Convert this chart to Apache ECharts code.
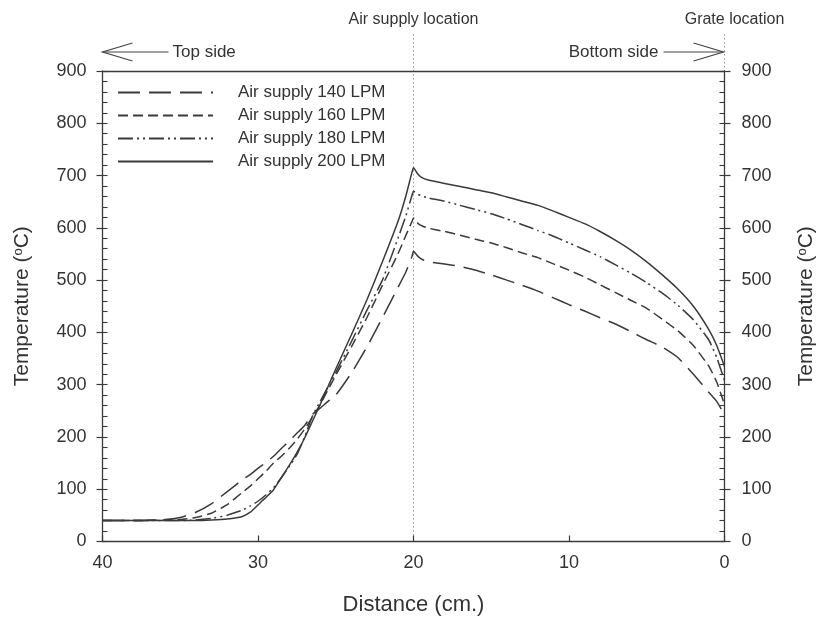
<!DOCTYPE html>
<html>
<head>
<meta charset="utf-8">
<script src="https://cdn.jsdelivr.net/npm/echarts@6/dist/echarts.min.js"></script>
<style>
html,body{margin:0;padding:0;background:#fff;}
#main{width:819px;height:617px;}
</style>
</head>
<body>
<div id="main"></div>
<script>
// Distance from grate side (cm)
const distance = [40,38,36,35,34,33,32,31,30.5,30,29.5,29,28.5,28,27.5,27,26.5,26,25.5,25,24,23,22,21,20.5,20.1,20,19.7,19.4,19,18,17,16,15,14,13,12,11,10,9,8,7,6,5,4,3,2,1,0.5,0];
// Temperatures (°C)
const temp140 = [40,40,42,46,56,72,95,118,128,140,151,163,178,192,207,222,243,255,268,280,322,372,428,486,515,545,555,545,539,535,531,526,519,510,500,490,479,466,453,441,428,416,401,386,372,352,320,285,268,242];
const temp160 = [40,40,41,42,46,54,70,94,106,120,134,150,163,178,195,215,238,262,290,318,372,428,490,550,585,612,619,608,603,599,593,586,578,571,562,552,543,531,519,506,491,476,461,446,425,403,375,335,305,262];
const temp180 = [40,40,40,40,41,44,50,60,68,77,89,103,122,143,166,200,240,268,296,323,382,442,500,580,622,662,670,664,660,657,651,643,635,627,617,606,595,584,571,558,545,529,513,495,475,452,424,385,352,308];
const temp200 = [40,40,40,40,40,41,43,48,56,70,84,99,122,145,170,198,230,262,296,330,395,462,535,612,660,706,715,702,695,691,685,679,673,667,659,651,643,632,620,608,593,576,557,535,510,483,450,405,375,335];
const seriesNames = ['Air supply 140 LPM','Air supply 160 LPM','Air supply 180 LPM','Air supply 200 LPM'];
const xTicks = {min:0, max:40, interval:10};
const yTicks = {min:0, max:900, interval:100, minor:20};

const LINE = '#3a3a3a';
const TEXT = '#333';
const FONT = 'Liberation Sans, Arial, sans-serif';

function pairs(ys){ return distance.map((x,i)=>[x, ys[i]]); }
const dashes = [[22,9],[10,5],[15,4,2,4,2,4],'solid'];
const allTemps = [temp140,temp160,temp180,temp200];

const chart = echarts.init(document.getElementById('main'), null, {renderer:'canvas'});

function majorY(pos){
  return {
    type:'value', position:pos, min:yTicks.min, max:yTicks.max, interval:yTicks.interval,
    name:'{n|Temperature (}{s|o}{n|C)}', nameLocation:'middle', nameRotate:90, nameGap:pos==='left'?69:71,
    nameTextStyle:{rich:{n:{fontSize:21,color:TEXT,fontFamily:FONT},s:{fontSize:13,color:TEXT,fontFamily:FONT,verticalAlign:'top',padding:[0,0,9,0]}}},
    axisLine:{show:true,onZero:false,lineStyle:{color:LINE,width:1.3}},
    axisTick:{show:true,inside:false,length:6,lineStyle:{color:LINE,width:1.2}},
    axisLabel:{show:true,fontSize:18,color:TEXT,fontFamily:FONT,margin:pos==='left'?16:17},
    splitLine:{show:false}
  };
}
function minorY(pos){
  return {
    type:'value', position:pos, min:yTicks.min, max:yTicks.max, interval:yTicks.minor,
    axisLine:{show:false,onZero:false},
    axisTick:{show:true,inside:true,length:5,lineStyle:{color:LINE,width:1.1}},
    axisLabel:{show:false}, splitLine:{show:false}
  };
}

chart.setOption({
  backgroundColor:'#fff',
  animation:false,
  grid:{left:102.5,right:94.5,top:71,bottom:75.5,containLabel:false,outerBoundsMode:'none'},
  legend:{
    orient:'vertical', left:112, top:79, itemWidth:95, itemHeight:14, itemGap:6,
    itemStyle:{color:'rgba(0,0,0,0)',borderWidth:0,opacity:0},
    textStyle:{fontSize:17,color:TEXT,fontFamily:FONT,padding:[0,0,0,20]},
    data:seriesNames
  },
  xAxis:[{
    type:'value', position:'bottom', inverse:true, min:xTicks.min, max:xTicks.max, interval:xTicks.interval,
    name:'Distance (cm.)', nameLocation:'middle', nameGap:52,
    nameTextStyle:{fontSize:22,color:TEXT,fontFamily:FONT},
    axisLine:{onZero:false,lineStyle:{color:LINE,width:1.3}},
    axisTick:{inside:true,length:6,lineStyle:{color:LINE,width:1.2}},
    axisLabel:{fontSize:18,color:TEXT,fontFamily:FONT,margin:13},
    splitLine:{show:false}
  },{
    type:'value', position:'top', inverse:true, min:xTicks.min, max:xTicks.max, interval:xTicks.interval,
    axisLine:{show:true,onZero:false,lineStyle:{color:LINE,width:1.3}},
    axisTick:{show:false}, axisLabel:{show:false}, splitLine:{show:false}
  }],
  yAxis:[majorY('left'), minorY('left'), majorY('right'), minorY('right')],
  series: seriesNames.map((nm,i)=>({
    name:nm, type:'line', xAxisIndex:0, yAxisIndex:0,
    data:pairs(allTemps[i]), symbol:'none', smooth:0.15,
    lineStyle:{color:LINE,width:1.5,type:dashes[i]},
    itemStyle:{color:LINE}
  }))
});

// Annotations positioned from the axis scales
const x20 = chart.convertToPixel({xAxisIndex:0}, 20);
const x0 = chart.convertToPixel({xAxisIndex:0}, 0);
const x40 = chart.convertToPixel({xAxisIndex:0}, 40);
const yBottom = chart.convertToPixel({yAxisIndex:0}, 0);
const yTop = chart.convertToPixel({yAxisIndex:0}, 900);
const arrowY = yTop - 19;
const dot = {stroke:'#999',lineWidth:1,lineDash:[1.5,2.5]};
const arrowStyle = {stroke:'#444',lineWidth:1.2,fill:null};

chart.setOption({graphic:[
  {type:'line',shape:{x1:x20,y1:34,x2:x20,y2:yBottom},style:dot,silent:true,z:-1},
  {type:'line',shape:{x1:x0,y1:34,x2:x0,y2:yBottom},style:dot,silent:true,z:-1},
  {type:'text',x:x20,y:20,style:{text:'Air supply location',fontSize:16,fill:TEXT,fontFamily:FONT,align:'center',verticalAlign:'middle'}},
  {type:'text',x:x0+10,y:20,style:{text:'Grate location',fontSize:16,fill:TEXT,fontFamily:FONT,align:'center',verticalAlign:'middle'}},
  // left arrow "Top side"
  {type:'polyline',shape:{points:[[x40+30,arrowY-9],[x40,arrowY],[x40+30,arrowY+9]]},style:arrowStyle},
  {type:'line',shape:{x1:x40,y1:arrowY,x2:x40+66,y2:arrowY},style:arrowStyle},
  {type:'text',x:x40+70,y:arrowY,style:{text:'Top side',fontSize:17,fill:TEXT,fontFamily:FONT,align:'left',verticalAlign:'middle'}},
  // right arrow "Bottom side"
  {type:'polyline',shape:{points:[[x0-31,arrowY-9],[x0-1,arrowY],[x0-31,arrowY+9]]},style:arrowStyle},
  {type:'line',shape:{x1:x0-61,y1:arrowY,x2:x0-1,y2:arrowY},style:arrowStyle},
  {type:'text',x:x0-66,y:arrowY,style:{text:'Bottom side',fontSize:17,fill:TEXT,fontFamily:FONT,align:'right',verticalAlign:'middle'}}
]});
</script>
</body>
</html>
